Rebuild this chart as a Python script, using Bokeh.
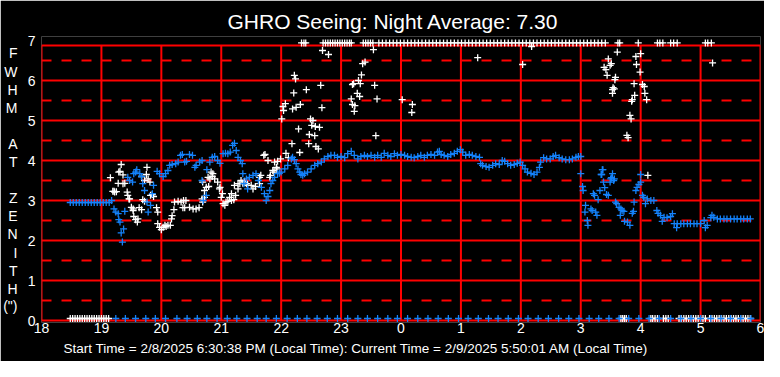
from bokeh.plotting import figure
from bokeh.models import FixedTicker, LinearAxis, Title
from bokeh.embed import file_html
from bokeh.resources import INLINE

# ---------------- data (hours since midnight of start day; 24+ = next day) ----------------
TITLE = "GHRO Seeing: Night Average: 7.30"
FOOTER = ("Start Time = 2/8/2025 6:30:38 PM (Local Time): "
          "Current Time = 2/9/2025 5:50:01 AM (Local Time)")
YLABEL_CHARS = ["F", "W", "H", "M", "A", "T", "Z", "E", "N", "I", "T", "H", "(\")"]

x_ticks = [18, 19, 20, 21, 22, 23, 24, 25, 26, 27, 28, 29, 30]
x_tick_labels = ["18", "19", "20", "21", "22", "23", "0", "1", "2", "3", "4", "5", "6"]
y_ticks = [0, 1, 2, 3, 4, 5, 6, 7]

# blue series (FWHM, arcsec)
blue_t = [18.48, 18.53, 18.58, 18.63, 18.68, 18.73, 18.78, 18.83, 18.88, 18.93, 18.98, 19.03, 19.08, 19.13,
          19.17, 19.21, 19.24, 19.28, 19.29, 19.31, 19.33, 19.35, 19.37, 19.39,
          19.44, 19.47, 19.52, 19.54, 19.57, 19.59, 19.64, 19.67, 19.69, 19.72, 19.76, 19.78, 19.82, 19.85,
          19.87, 19.93, 19.97, 20.03, 20.07, 20.11, 20.14, 20.18, 20.24, 20.28, 20.32, 20.35, 20.39, 20.42,
          20.47, 20.52, 20.56, 20.58, 20.64, 20.68, 20.68, 20.70, 20.75, 20.76, 20.81, 20.85, 20.89, 20.94,
          20.98, 21.03, 21.07, 21.11, 21.15, 21.19, 21.22, 21.25, 21.28, 21.32, 21.35, 21.36, 21.38, 21.42,
          21.44, 21.47, 21.53, 21.58, 21.62, 21.67, 21.72, 21.75, 21.78, 21.81, 21.83, 21.86, 21.89, 21.94,
          21.97, 22.00, 22.06, 22.11, 22.17, 22.19, 22.22, 22.25, 22.28, 22.31, 22.33, 22.36, 22.39, 22.44,
          22.50, 22.56, 22.61, 22.67, 22.72, 22.78, 22.83, 22.89, 22.94, 23.00, 23.06, 23.11, 23.17, 23.22,
          23.28, 23.33, 23.39, 23.44, 23.50, 23.56, 23.61, 23.67, 23.72, 23.78, 23.83, 23.89, 23.94, 24.00,
          24.06, 24.11, 24.17, 24.22, 24.28, 24.33, 24.39, 24.44, 24.50, 24.56, 24.61, 24.64, 24.67, 24.72,
          24.78, 24.83, 24.89, 24.94, 24.99, 25.03, 25.08, 25.14, 25.19, 25.25, 25.31, 25.33, 25.36, 25.42,
          25.47, 25.53, 25.58, 25.64, 25.69, 25.73, 25.78, 25.83, 25.89, 25.94, 25.99, 26.03, 26.07, 26.11,
          26.17, 26.22, 26.27, 26.31, 26.33, 26.38, 26.43, 26.49, 26.54, 26.58, 26.64, 26.69, 26.75, 26.81,
          26.86, 26.92, 26.96, 27.00,
          27.00, 27.03, 27.04, 27.07, 27.08, 27.11, 27.12, 27.17, 27.19, 27.21, 27.23, 27.25, 27.27, 27.29,
          27.32, 27.34, 27.35, 27.36, 27.37, 27.38, 27.40, 27.43, 27.46, 27.49, 27.50, 27.51, 27.53, 27.55,
          27.56, 27.58, 27.60, 27.64, 27.66, 27.67, 27.69, 27.72, 27.73, 27.78, 27.82, 27.86, 27.88, 27.89,
          27.92, 27.94, 27.97, 28.00, 28.00, 28.03, 28.05, 28.08, 28.11, 28.17, 28.22, 28.27, 28.29, 28.33,
          28.36, 28.39, 28.44, 28.50, 28.53, 28.56, 28.60, 28.61, 28.67, 28.72, 28.78, 28.83, 28.89, 28.94,
          29.00, 29.06, 29.08, 29.11, 29.17, 29.19, 29.22, 29.28, 29.33, 29.39, 29.44, 29.50, 29.56, 29.61,
          29.67, 29.72, 29.78, 29.83]
blue_v = [2.95, 2.95, 2.95, 2.95, 2.95, 2.95, 2.95, 2.95, 2.95, 2.95, 2.95, 2.95, 2.95, 2.95,
          3.00, 2.79, 2.71, 2.67, 2.52, 2.46, 2.19, 1.96, 2.29, 2.73,
          3.58, 3.50, 3.46, 3.67, 3.71, 3.77, 3.67, 3.60, 3.42, 3.25, 2.96, 2.71, 2.88, 3.17,
          3.38, 3.73, 3.67, 3.60, 3.67, 3.75, 3.88, 3.90, 3.92, 3.96, 4.13, 4.15, 3.96, 3.98,
          4.15, 4.13, 3.83, 3.88, 3.96, 4.00, 3.50, 3.00, 3.13, 3.77, 3.96, 4.08, 4.10, 4.00,
          3.93, 4.17, 4.18, 4.17, 4.21, 4.38, 4.43, 4.25, 4.08, 4.00, 3.92, 3.67, 3.42, 3.54,
          3.29, 3.58, 3.63, 3.67, 3.50, 3.33, 3.17, 3.00, 3.10, 3.25, 3.42, 3.50, 3.58, 3.67,
          3.68, 3.71, 3.79, 3.88, 4.04, 4.08, 4.02, 3.92, 3.79, 3.71, 3.65, 3.63, 3.67, 3.71,
          3.79, 3.88, 3.92, 3.96, 4.04, 4.10, 4.13, 4.13, 4.08, 4.10, 4.07, 4.17, 4.23, 4.13,
          4.04, 4.10, 4.13, 4.10, 4.13, 4.08, 4.13, 4.08, 4.18, 4.13, 4.10, 4.17, 4.13, 4.15,
          4.13, 4.10, 4.08, 4.07, 4.10, 4.13, 4.08, 4.13, 4.15, 4.13, 4.21, 4.23, 4.15, 4.13,
          4.10, 4.15, 4.18, 4.23, 4.27, 4.21, 4.13, 4.15, 4.13, 4.10, 4.08, 3.92, 3.88, 3.85,
          3.83, 3.88, 3.92, 3.90, 4.00, 3.98, 3.92, 3.88, 3.90, 3.93, 3.96, 3.88, 3.79, 3.71,
          3.68, 3.65, 3.71, 3.83, 3.96, 4.07, 4.04, 4.04, 4.10, 4.13, 4.07, 4.04, 4.02, 4.02,
          4.04, 4.08, 4.10, 4.10,
          3.67, 3.35, 3.25, 2.71, 2.88, 2.50, 2.38, 2.79, 2.75, 3.17, 3.13, 2.71, 2.63, 3.02,
          3.25, 3.65, 3.65, 3.77, 3.77, 3.46, 3.32, 3.15, 3.13, 3.46, 3.54, 3.57, 3.67, 3.50,
          3.54, 2.96, 2.92, 2.83, 2.63, 2.79, 2.75, 2.73, 2.48, 2.46, 2.38, 2.68, 2.73, 2.96,
          3.25, 3.33, 3.40, 3.46, 3.65, 3.13, 3.08, 2.92, 3.04, 3.00, 3.00, 2.75, 2.68, 2.63,
          2.48, 2.58, 2.57, 2.60, 2.67, 2.42, 2.32, 2.42, 2.42, 2.42, 2.42, 2.42, 2.42, 2.42,
          2.42, 2.50, 2.32, 2.38, 2.57, 2.63, 2.58, 2.54, 2.54, 2.54, 2.54, 2.54, 2.54, 2.54,
          2.54, 2.54, 2.54, 2.54]

# blue "no reading" markers drawn on the zero line
BLUE_ZERO = 0.05
blue_zero_t = [19.24, 19.40, 19.57, 19.74, 19.90, 20.07, 20.26, 20.43, 20.60, 20.76, 20.93, 21.10,
               21.26, 21.43, 21.60, 21.75, 21.92, 22.10, 22.27, 22.43, 22.60, 22.77, 22.94, 23.11,
               23.28, 23.44, 23.61, 23.78, 23.94, 24.11, 24.28, 24.45, 24.62, 24.79, 24.96, 25.12,
               25.29, 25.46, 25.62, 25.79, 25.96, 26.12, 26.29, 26.46, 26.63, 26.80, 26.97, 27.14,
               27.30, 27.47, 27.64, 27.80, 27.97, 28.14, 28.31, 28.50, 28.67, 28.84, 29.00, 29.17,
               29.34, 29.50, 29.67, 29.84]

# white series (FWHM, arcsec)
white_t = [19.15, 19.19, 19.21, 19.22, 19.25, 19.28, 19.29, 19.31, 19.33, 19.36, 19.36, 19.39, 19.43,
           19.44, 19.46, 19.47, 19.50, 19.53, 19.53, 19.54, 19.57, 19.60, 19.61, 19.63, 19.67, 19.67,
           19.69, 19.72, 19.72, 19.75, 19.76, 19.78, 19.81, 19.82, 19.85, 19.87, 19.92, 19.94, 19.94,
           19.97, 20.00, 20.03, 20.06, 20.08, 20.11, 20.15, 20.17, 20.18, 20.21, 20.22, 20.28, 20.33,
           20.36, 20.37, 20.39, 20.41, 20.47, 20.53, 20.58, 20.63, 20.68, 20.69, 20.69, 20.72, 20.72,
           20.75, 20.78, 20.79, 20.81, 20.83, 20.85, 20.86, 20.89, 20.94, 20.97, 20.98, 21.00, 21.02,
           21.03, 21.06, 21.08, 21.11, 21.14, 21.17, 21.17, 21.21, 21.22, 21.24, 21.28, 21.28, 21.31,
           21.33, 21.36, 21.39, 21.42, 21.44, 21.50, 21.53, 21.57, 21.64, 21.64, 21.66, 21.71, 21.73,
           21.78, 21.81, 21.82, 21.86, 21.88, 21.89, 21.92, 21.93, 21.94, 21.99,
           22.01, 22.03, 22.04, 22.07, 22.08, 22.12, 22.18, 22.19, 22.21, 22.22, 22.24, 22.25, 22.29,
           22.31, 22.32, 22.42, 22.46, 22.47, 22.49, 22.51, 22.53, 22.56, 22.57, 22.58, 22.62, 22.64,
           22.66, 22.68, 22.69, 22.79, 23.17, 23.19, 23.19, 23.21, 23.22, 23.23, 23.27, 23.29, 23.31,
           23.32, 23.34, 23.36, 23.40, 23.54, 23.56, 23.58, 23.60, 24.02, 24.18, 24.19, 25.28, 26.03,
           26.18, 27.39, 27.42, 27.44, 27.46, 27.49, 27.51, 27.53, 27.53, 27.54, 27.56, 27.57, 27.58,
           27.61, 27.77, 27.79, 27.82, 27.84, 27.85, 27.86, 27.89, 27.90, 27.92, 27.93, 27.99, 28.00,
           28.03, 28.06, 28.07, 28.10, 28.12, 29.20]
white_v = [3.57, 3.23, 3.23, 3.21, 3.22, 3.43, 3.71, 3.73, 3.90, 3.42, 3.64, 3.43, 3.21,
           3.13, 3.04, 3.04, 2.83, 2.75, 2.79, 2.60, 2.52, 2.46, 2.54, 2.82, 2.77, 3.60,
           3.02, 2.98, 3.50, 3.65, 3.83, 3.54, 3.46, 3.13, 3.15, 3.10, 2.82, 2.71, 2.42,
           2.33, 2.27, 2.33, 2.38, 2.35, 2.38, 2.38, 2.54, 2.62, 2.77, 2.96, 2.98, 2.96,
           2.82, 3.00, 2.82, 3.00, 2.83, 2.79, 2.79, 2.82, 3.04, 2.96, 3.46, 3.08, 3.25,
           3.33, 3.58, 3.35, 3.54, 3.71, 3.60, 3.67, 3.54, 3.46, 3.29, 3.33, 3.08, 3.17,
           2.92, 2.88, 2.96, 2.98, 3.08, 3.00, 3.17, 3.02, 3.38, 3.13, 3.29, 3.42, 3.42,
           3.50, 3.43, 3.48, 3.42, 3.38, 3.38, 3.29, 3.35, 3.42, 3.58, 3.63, 4.13, 4.15,
           4.00, 3.58, 3.63, 3.75, 3.71, 3.96, 3.83, 3.79, 3.98, 4.04,
           5.04, 5.35, 5.25, 5.42, 4.18, 4.07, 4.42, 5.29, 5.69, 6.13, 6.04, 5.33, 4.79,
           4.20, 5.40, 5.77, 4.42, 4.65, 5.04, 4.88, 5.00, 4.62, 4.85, 4.35, 4.29, 4.83,
           5.88, 5.32, 6.75, 6.65, 5.54, 5.90, 5.40, 5.92, 5.23, 5.37, 5.68, 6.00, 5.60,
           5.92, 6.14, 6.42, 6.46, 6.77, 5.88, 4.62, 5.54, 5.52, 5.20, 5.40, 6.57, 6.40,
           6.85, 6.33, 6.27, 6.13, 6.54, 6.38, 6.42, 5.77, 5.68, 5.82, 5.79, 6.02, 6.08,
           6.71, 4.63, 4.57, 5.13, 5.04, 5.48, 5.52, 5.92, 5.63, 6.60, 6.40, 6.21, 6.67,
           5.90, 5.85, 5.68, 5.52, 3.63, 6.44]

# white readings pinned to the top of the scale (>= 7")
WHITE_TOP = 6.94
white_top_t = [22.34, 22.38, 22.41,
               22.70, 22.74, 22.78, 22.82, 22.86, 22.90, 22.94, 22.98, 23.02, 23.06, 23.10, 23.14, 23.17,
               23.37, 23.41, 23.45, 23.49, 23.53,
               23.63, 23.69, 23.75, 23.81, 23.87, 23.93, 23.99, 24.05, 24.11, 24.17, 24.23, 24.29, 24.35,
               24.41, 24.47, 24.53, 24.59, 24.65, 24.71, 24.77, 24.83, 24.89, 24.95, 25.01, 25.07, 25.13,
               25.19, 25.25, 25.31, 25.37, 25.43, 25.49, 25.55, 25.61, 25.67, 25.73, 25.79, 25.85, 25.91,
               25.97, 26.03, 26.09, 26.15, 26.21, 26.27, 26.33, 26.39, 26.45, 26.51, 26.57, 26.63, 26.69,
               26.75, 26.81, 26.87, 26.93, 26.99, 27.05, 27.11, 27.17, 27.23, 27.29, 27.35, 27.41,
               27.62, 27.65, 27.96, 28.28, 28.32, 28.37, 28.50, 28.55, 28.61, 29.08, 29.12, 29.18]

# white "no reading" markers on the zero line
WHITE_ZERO = 0.05
white_zero_t = [18.48, 18.52, 18.56, 18.60, 18.64, 18.68, 18.72, 18.76, 18.80, 18.84, 18.88, 18.92,
                18.96, 19.00, 19.04, 19.08, 19.12,
                27.67, 27.70, 27.73, 27.76,
                28.17, 28.20, 28.24, 28.28,
                28.38, 28.42, 28.46,
                28.64, 28.68, 28.72, 28.76, 28.80, 28.84, 28.88, 28.92, 28.96, 29.00, 29.04, 29.08,
                29.15, 29.19, 29.23, 29.27, 29.31, 29.35, 29.39, 29.43, 29.47, 29.51, 29.55, 29.59,
                29.63, 29.67, 29.71, 29.75, 29.79, 29.83]

# ---------------- styling / layout ----------------
FONT = "Liberation Sans"
BLUE = "#1482FA"
RED = "#FF0000"
X0, X1 = 18, 30
Y_TOP = 6.875  # top of the framed plotting box

p = figure(width=764, height=361, x_range=(X0, X1), y_range=(-0.05, 7.1),
           output_backend="svg", toolbar_location=None, title_location="above",
           min_border_left=40, min_border_right=4, min_border_top=36, min_border_bottom=39,
           background_fill_color="black", border_fill_color="black")
p.outline_line_color = None
p.xgrid.visible = False
p.ygrid.visible = False

# title
p.title.text = TITLE
p.title.align = "left"
p.title.offset = 186
p.title.standoff = 7
p.title.text_color = "white"
p.title.text_font = FONT
p.title.text_font_size = "21px"
p.title.text_font_style = "normal"

p.xaxis.ticker = FixedTicker(ticks=x_ticks)
p.xaxis.major_label_overrides = {t: s for t, s in zip(x_ticks, x_tick_labels)}
p.yaxis.ticker = FixedTicker(ticks=y_ticks)


def style_axis(ax, size="14px"):
    ax.axis_line_color = None
    ax.major_tick_line_color = None
    ax.minor_tick_line_color = None
    ax.major_tick_out = 0
    ax.major_tick_in = 0
    ax.minor_tick_out = 0
    ax.minor_tick_in = 0
    ax.major_label_text_color = "white"
    ax.major_label_text_font = FONT
    ax.major_label_text_font_size = size


style_axis(p.xaxis[0])
style_axis(p.yaxis[0])
p.xaxis.major_label_standoff = 0
p.yaxis.major_label_standoff = 6

# vertical stacked letters of the y-axis caption, drawn as an outer axis's labels
letter_px = [52.5, 71, 89.5, 107, 143, 161, 197, 215, 233, 252, 270, 288, 305]
letter_pos = [(320 - c) / 40.0 for c in letter_px]
letter_axis = LinearAxis(ticker=FixedTicker(ticks=letter_pos),
                         major_label_overrides={pos: ch for pos, ch in zip(letter_pos, YLABEL_CHARS)})
style_axis(letter_axis)
letter_axis.major_label_standoff = 7
p.add_layout(letter_axis, "left")

# footer line
p.add_layout(Title(text=FOOTER, align="left", offset=22, standoff=7, text_color="white",
                   text_font=FONT, text_font_size="13.5px", text_font_style="normal",
                   vertical_align="bottom"), "below")

# grid: solid at whole units, dashed at half units, framed box
solid_y = [1, 2, 3, 4, 5, 6]
dash_y = [0.5, 1.5, 2.5, 3.5, 4.5, 5.5, 6.5]
solid_x = [19, 20, 21, 22, 23, 24, 25, 26, 27, 28, 29]
p.segment(x0=[X0] * len(dash_y), y0=dash_y, x1=[X1] * len(dash_y), y1=dash_y,
          line_color=RED, line_width=2, line_dash="10 10")
p.segment(x0=[X0] * len(solid_y), y0=solid_y, x1=[X1] * len(solid_y), y1=solid_y,
          line_color=RED, line_width=2)
p.segment(x0=solid_x, y0=[0] * len(solid_x), x1=solid_x, y1=[Y_TOP] * len(solid_x),
          line_color=RED, line_width=2)
p.segment(x0=[X0, X0, X0, X1], y0=[0, Y_TOP, 0, 0], x1=[X1, X1, X0, X1], y1=[0, Y_TOP, Y_TOP, Y_TOP],
          line_color=RED, line_width=2)

MS = 7
LW = 1.3
p.scatter(white_zero_t, [WHITE_ZERO] * len(white_zero_t), marker="cross", size=MS,
          line_color="white", line_width=LW)
p.scatter(white_top_t, [WHITE_TOP] * len(white_top_t), marker="cross", size=MS,
          line_color="white", line_width=LW)
p.scatter(white_t, white_v, marker="cross", size=MS, line_color="white", line_width=LW)
p.scatter(blue_t, blue_v, marker="cross", size=MS, line_color=BLUE, line_width=LW)
p.scatter(blue_zero_t, [BLUE_ZERO] * len(blue_zero_t), marker="cross", size=MS,
          line_color=BLUE, line_width=LW)

open("out.html", "w").write(file_html(p, INLINE))
